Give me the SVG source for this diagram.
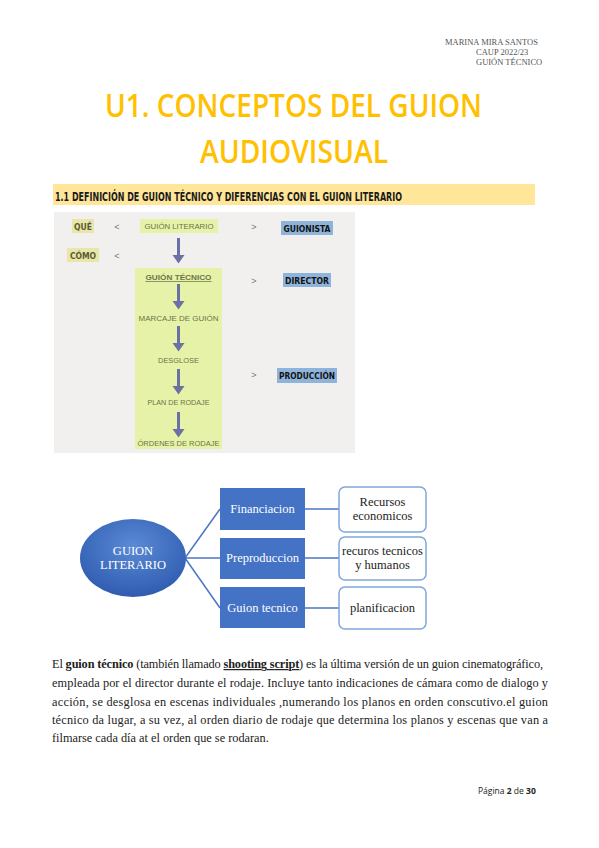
<svg xmlns="http://www.w3.org/2000/svg" width="599" height="848" viewBox="0 0 599 848">
<defs>
<style>
.hdr{font-family:"Liberation Serif",serif;font-size:8.5px;fill:#555}
.title{font-family:"Open Sans","Liberation Sans",sans-serif;font-size:33px;fill:#ffc000;font-weight:600}
.sec{font-family:"DejaVu Sans Condensed","DejaVu Sans",sans-serif;font-weight:bold;font-size:13px;fill:#1a1a1a}
.lbl{font-family:"Liberation Sans",sans-serif;font-size:7.5px;fill:#6a7548}
.lblb{font-family:"DejaVu Sans Condensed","DejaVu Sans",sans-serif;font-weight:bold;font-size:9px;fill:#111}
.lblq{font-family:"DejaVu Sans Condensed","DejaVu Sans",sans-serif;font-weight:bold;font-size:8.5px;fill:#5a5a30}
.lt{font-family:"Liberation Sans",sans-serif;font-size:9px;fill:#777}
.arr{fill:#6b72a3}
.blue{fill:#4472c4}
.white{fill:#fff;stroke:#7fa7dc;stroke-width:1.5}
.wt{font-family:"Liberation Serif",serif;font-size:12.5px;fill:#fff;text-anchor:middle}
.bt{font-family:"Liberation Serif",serif;font-size:12.5px;fill:#222;text-anchor:middle}
.con{stroke:#4a76c6;stroke-width:1.5;fill:none}
.body{font-family:"Liberation Serif",serif;font-size:12.3px;fill:#222}
.foot{font-family:"Open Sans","Liberation Sans",sans-serif;font-size:8.5px;fill:#222}
</style>
<radialGradient id="eg" cx="0.5" cy="0.35" r="0.65">
<stop offset="0" stop-color="#5b8ad6"/>
<stop offset="1" stop-color="#2f5cb0"/>
</radialGradient>
</defs>
<rect width="599" height="848" fill="#fff"/>

<g id="header">
<text class="hdr" x="445" y="45">MARINA MIRA SANTOS</text>
<text class="hdr" x="476" y="55">CAUP 2022/23</text>
<text class="hdr" x="476" y="65">GUIÓN TÉCNICO</text>
</g>

<g id="title">
<text class="title" x="105" y="117" textLength="377" lengthAdjust="spacingAndGlyphs">U1. CONCEPTOS DEL GUION</text>
<text class="title" x="200" y="163" textLength="188" lengthAdjust="spacingAndGlyphs">AUDIOVISUAL</text>
</g>

<g id="section">
<rect x="53" y="184" width="482" height="21" fill="#ffe699"/>
<text class="sec" x="55" y="201" textLength="347" lengthAdjust="spacingAndGlyphs">1.1 DEFINICIÓN DE GUION TÉCNICO Y DIFERENCIAS CON EL GUION LITERARIO</text>
</g>

<g id="scheme">
<rect x="54" y="212" width="301" height="241" fill="#f1f0ee"/>
<g id="que">
<rect x="72" y="219" width="22" height="14" fill="#e8e6ab"/>
<text class="lblq" x="83" y="230" text-anchor="middle">QUÉ</text>
</g>
<text class="lt" x="117" y="230" text-anchor="middle">&lt;</text>
<g id="guion-literario">
<rect x="140" y="219" width="78" height="14" fill="#e6f2a8"/>
<text class="lbl" x="179" y="229" text-anchor="middle" textLength="69" lengthAdjust="spacingAndGlyphs">GUIÓN LITERARIO</text>
</g>
<text class="lt" x="254" y="230" text-anchor="middle">&gt;</text>
<g id="guionista">
<rect x="281" y="221" width="52" height="14" fill="#8fb4dc"/>
<text class="lblb" x="307" y="232" text-anchor="middle" textLength="47" lengthAdjust="spacingAndGlyphs">GUIONISTA</text>
</g>
<g id="como">
<rect x="67" y="248" width="32" height="14" fill="#e8e6ab"/>
<text class="lblq" x="83" y="259" text-anchor="middle">CÓMO</text>
</g>
<text class="lt" x="117" y="259" text-anchor="middle">&lt;</text>

<g id="tecnico-box">
<rect x="135" y="268" width="87" height="181" fill="#e6f2a8"/>
<text class="lbl" x="178.5" y="280" text-anchor="middle" font-weight="bold" textLength="66" lengthAdjust="spacingAndGlyphs" style="text-decoration:underline">GUIÓN TÉCNICO</text>
<text class="lbl" x="178.5" y="321" text-anchor="middle" textLength="80" lengthAdjust="spacingAndGlyphs">MARCAJE DE GUIÓN</text>
<text class="lbl" x="178.5" y="363" text-anchor="middle" textLength="41" lengthAdjust="spacingAndGlyphs">DESGLOSE</text>
<text class="lbl" x="178.5" y="405" text-anchor="middle" textLength="62" lengthAdjust="spacingAndGlyphs">PLAN DE RODAJE</text>
<text class="lbl" x="178.5" y="446" text-anchor="middle" textLength="82" lengthAdjust="spacingAndGlyphs">ÓRDENES DE RODAJE</text>
</g>
<g id="arrows">
<path class="arr" d="M177 238h3v17h4.5l-6 8.5l-6-8.5h4.5z"/>
<path class="arr" d="M177 284h3v17h4.5l-6 8.5l-6-8.5h4.5z"/>
<path class="arr" d="M177 326h3v17h4.5l-6 8.5l-6-8.5h4.5z"/>
<path class="arr" d="M177 369h3v17h4.5l-6 8.5l-6-8.5h4.5z"/>
<path class="arr" d="M177 412h3v17h4.5l-6 8.5l-6-8.5h4.5z"/>
</g>
<text class="lt" x="254" y="284" text-anchor="middle">&gt;</text>
<g id="director">
<rect x="283" y="273" width="48" height="14" fill="#8fb4dc"/>
<text class="lblb" x="307" y="284" text-anchor="middle" textLength="44" lengthAdjust="spacingAndGlyphs">DIRECTOR</text>
</g>
<text class="lt" x="254" y="378" text-anchor="middle">&gt;</text>
<g id="produccion">
<rect x="277" y="368" width="60" height="15" fill="#8fb4dc"/>
<text class="lblb" x="307" y="379" text-anchor="middle" textLength="56" lengthAdjust="spacingAndGlyphs">PRODUCCIÓN</text>
</g>
</g>

<g id="connectors">
<line class="con" x1="185" y1="558" x2="220" y2="509"/>
<line class="con" x1="186" y1="558" x2="220" y2="558"/>
<line class="con" x1="185" y1="558" x2="220" y2="608"/>
<line class="con" x1="305" y1="509" x2="339" y2="509"/>
<line class="con" x1="305" y1="558" x2="339" y2="558"/>
<line class="con" x1="305" y1="608" x2="339" y2="608"/>
</g>

<g id="guion-literario-node">
<ellipse cx="133" cy="558" rx="53" ry="39" fill="url(#eg)"/>
<text class="wt" x="133" y="555">GUION</text>
<text class="wt" x="133" y="569">LITERARIO</text>
</g>
<g id="financiacion">
<rect class="blue" x="220" y="488" width="85" height="42"/>
<text class="wt" x="262.5" y="513">Financiacion</text>
</g>
<g id="preproduccion">
<rect class="blue" x="220" y="538" width="85" height="41"/>
<text class="wt" x="262.5" y="562">Preproduccion</text>
</g>
<g id="guion-tecnico">
<rect class="blue" x="220" y="587" width="85" height="41"/>
<text class="wt" x="262.5" y="612">Guion tecnico</text>
</g>
<g id="recursos-economicos">
<rect class="white" x="339" y="487" width="87" height="45" rx="6"/>
<text class="bt" x="382.5" y="506">Recursos</text>
<text class="bt" x="382.5" y="520">economicos</text>
</g>
<g id="recursos-tecnicos">
<rect class="white" x="339" y="537" width="87" height="43" rx="6"/>
<text class="bt" x="382.5" y="555">recuros tecnicos</text>
<text class="bt" x="382.5" y="569">y humanos</text>
</g>
<g id="planificacion">
<rect class="white" x="339" y="587" width="87" height="42" rx="6"/>
<text class="bt" x="382.5" y="612">planificacion</text>
</g>

<g id="paragraph">
<text class="body" x="52" y="668" textLength="491" lengthAdjust="spacing">El <tspan font-weight="bold">guion técnico</tspan> (también llamado <tspan font-weight="bold" text-decoration="underline">shooting script</tspan>) es la última versión de un guion cinematográfico,</text>
<text class="body" x="52" y="687" textLength="496" lengthAdjust="spacing">empleada por el director durante el rodaje. Incluye tanto indicaciones de cámara como de dialogo y</text>
<text class="body" x="52" y="706" textLength="496" lengthAdjust="spacing">acción, se desglosa en escenas individuales ,numerando los planos en orden conscutivo.el guion</text>
<text class="body" x="52" y="724" textLength="496" lengthAdjust="spacing">técnico da lugar, a su vez, al orden diario de rodaje que determina los planos y escenas que van a</text>
<text class="body" x="52" y="742">filmarse cada día at el orden que se rodaran.</text>
</g>

<g id="footer">
<text class="foot" x="478" y="794">Página <tspan font-weight="bold">2</tspan> de <tspan font-weight="bold">30</tspan></text>
</g>
</svg>
